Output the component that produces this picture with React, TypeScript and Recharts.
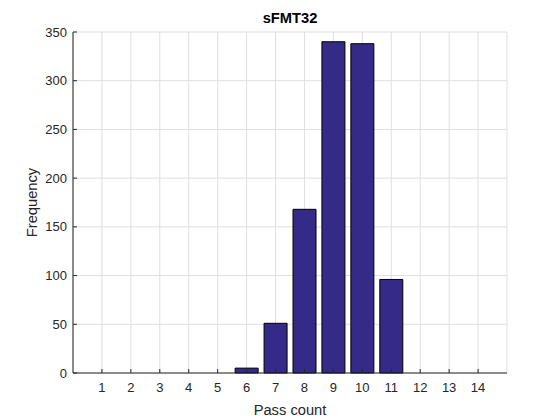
import { BarChart, Bar, XAxis, YAxis, CartesianGrid } from "recharts";

const passCounts = [1, 2, 3, 4, 5, 6, 7, 8, 9, 10, 11, 12, 13, 14];
const frequencies = [0, 0, 0, 0, 0, 5, 51, 168, 340, 338, 96, 0, 0, 0];
const yTicks = [0, 50, 100, 150, 200, 250, 300, 350];

const TITLE = "sFMT32";
const X_LABEL = "Pass count";
const Y_LABEL = "Frequency";

const FONT = '"Liberation Sans", Arial, Helvetica, sans-serif';
const AXIS_COLOR = "#262626";
const BAR_COLOR = "#352a87";

const data = passCounts.map((count, i) => ({ count, frequency: frequencies[i] }));

export default function App() {
  return (
    <div style={{ position: "absolute", left: 0, top: 0, width: 560, height: 420, background: "#fff", fontFamily: FONT }}>
      <div
        style={{
          position: "absolute",
          left: 73,
          width: 434,
          top: 10,
          textAlign: "center",
          fontSize: 14.7,
          fontWeight: "bold",
          lineHeight: "17px",
          color: "#000",
        }}
      >
        {TITLE}
      </div>
      <BarChart
        width={560}
        height={420}
        data={data}
        margin={{ top: 32, right: 53, bottom: 0, left: 0 }}
      >
        <CartesianGrid stroke="#dfdfdf" strokeWidth={1} />
        <XAxis
          dataKey="count"
          type="number"
          domain={[0, 15]}
          ticks={passCounts}
          height={47}
          stroke={AXIS_COLOR}
          tickSize={-4}
          tickMargin={14}
          tick={{ fill: AXIS_COLOR, fontSize: 13, fontFamily: FONT }}
          label={{
            value: X_LABEL,
            position: "insideBottom",
            offset: 5,
            fill: AXIS_COLOR,
            fontSize: 14.7,
            fontFamily: FONT,
          }}
        />
        {/* top edge of the box */}
        <XAxis
          xAxisId="top"
          orientation="top"
          type="number"
          domain={[0, 15]}
          ticks={passCounts}
          height={0}
          stroke={AXIS_COLOR}
          tickSize={-4}
          tickFormatter={() => ""}
        />
        <YAxis
          type="number"
          domain={[0, 350]}
          ticks={yTicks}
          width={73}
          stroke={AXIS_COLOR}
          tickSize={-4}
          tickMargin={10}
          tick={{ fill: AXIS_COLOR, fontSize: 13, fontFamily: FONT }}
          label={{
            value: Y_LABEL,
            position: "insideLeft",
            angle: -90,
            offset: 32,
            fill: AXIS_COLOR,
            fontSize: 14.7,
            fontFamily: FONT,
            style: { textAnchor: "middle" },
          }}
        />
        {/* right edge of the box */}
        <YAxis
          yAxisId="right"
          orientation="right"
          type="number"
          domain={[0, 350]}
          ticks={yTicks}
          width={0}
          stroke={AXIS_COLOR}
          tickSize={-4}
          tickFormatter={() => ""}
        />
        <Bar
          dataKey="frequency"
          fill={BAR_COLOR}
          stroke="#000"
          strokeWidth={1}
          barSize={23}
          isAnimationActive={false}
        />
      </BarChart>
    </div>
  );
}
